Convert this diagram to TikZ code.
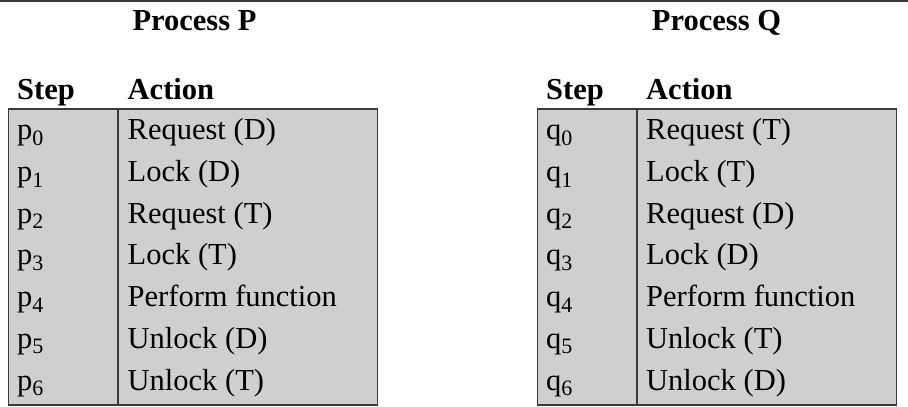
\documentclass[tikz,border=0pt]{standalone}
\usepackage{fontspec}
\setmainfont{Liberation Serif}
\definecolor{cellfill}{RGB}{207,207,207}
\definecolor{edge}{RGB}{58,58,58}
\newcommand\mysub[1]{\raisebox{-5.5pt}{\fontsize{22}{22}\selectfont #1}}
\tikzset{
  txt/.style={anchor=base west, inner sep=0pt, font=\fontsize{30.5}{30.5}\selectfont},
  hdr/.style={anchor=base west, inner sep=0pt, font=\fontsize{30.5}{30.5}\selectfont\bfseries},
  ttl/.style={anchor=base, inner sep=0pt, font=\fontsize{30.5}{30.5}\selectfont\bfseries},
  tablebox/.style={draw=edge, line width=1.5pt, fill=cellfill},
  divider/.style={draw=edge, line width=1.5pt},
}
\begin{document}
\begin{tikzpicture}[x=1pt,y=-1pt]
\useasboundingbox (0,0) rectangle (908,407);
% top rule
\draw[edge, line width=2pt] (0,1) -- (908,1);
% tables
\draw[tablebox] (8.5,109) rectangle (377.5,405);
\draw[divider] (118,109) -- (118,405);
\draw[tablebox] (537.5,109) rectangle (896.5,405);
\draw[divider] (637,109) -- (637,405);
% titles
\node[ttl] (tP) at (194.5,30) {Process P};
\node[ttl] (tQ) at (716.5,30) {Process Q};
% headers
\node[hdr] (hPs) at (17,99) {Step};
\node[hdr] (hPa) at (127.5,99) {Action};
\node[hdr] (hQs) at (546,99) {Step};
\node[hdr] (hQa) at (646,99) {Action};
% rows
\foreach \i/\pa/\qa in {0/Request (D)/Request (T), 1/Lock (D)/Lock (T), 2/Request (T)/Request (D), 3/Lock (T)/Lock (D), 4/Perform function/Perform function, 5/Unlock (D)/Unlock (T), 6/Unlock (T)/Unlock (D)}{
  \pgfmathsetmacro\yy{139.8+41.7*\i}
  \node[txt] (ps\i) at (17,\yy) {p\mysub{\i}};
  \node[txt] (pa\i) at (127.5,\yy) {\pa};
  \node[txt] (qs\i) at (546,\yy) {q\mysub{\i}};
  \node[txt] (qa\i) at (646,\yy) {\qa};
}
\end{tikzpicture}
\end{document}
